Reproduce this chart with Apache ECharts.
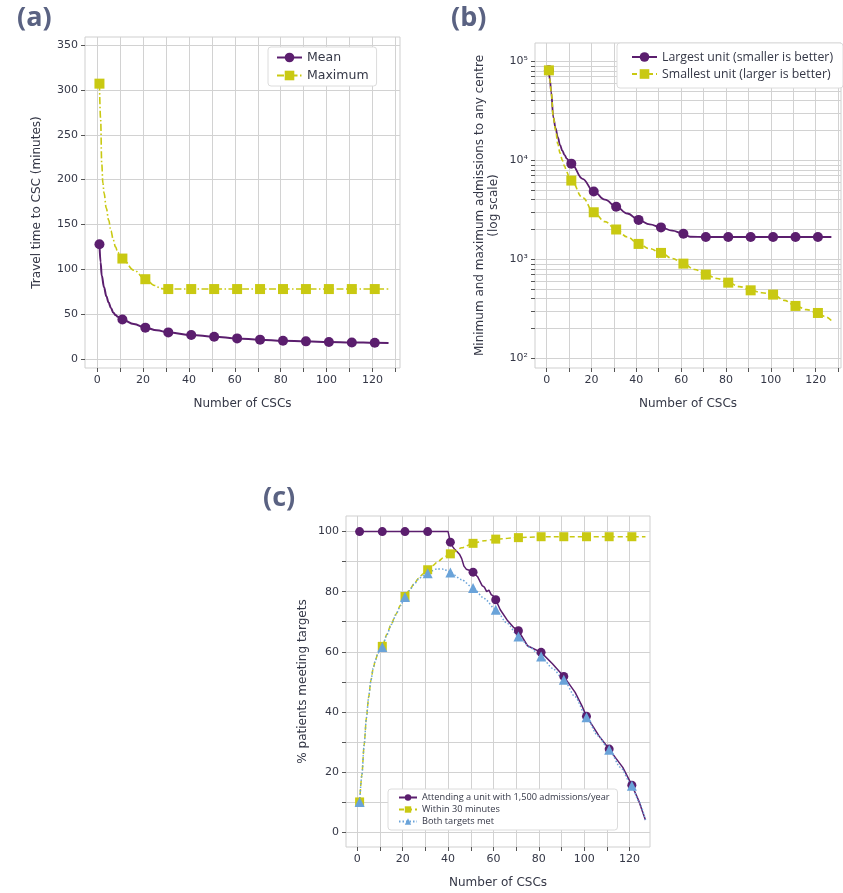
<!DOCTYPE html>
<html><head><meta charset="utf-8">
<script src="https://cdn.jsdelivr.net/npm/echarts@6/dist/echarts.min.js"></script>
<style>html,body{margin:0;padding:0;background:#fff}#chart{width:843px;height:893px}</style>
</head><body><div id="chart"></div>
<script>
// ---------- shared ----------
const markerX = [1, 11, 21, 31, 41, 51, 61, 71, 81, 91, 101, 111, 121];
const xTickValues = [0, 10, 20, 30, 40, 50, 60, 70, 80, 90, 100, 110, 120, 130];
const xLabelValues = [0, 20, 40, 60, 80, 100, 120];

// ---------- panel (a) ----------
const aYTicks = [0, 50, 100, 150, 200, 250, 300, 350];
const aMeanX = [1, 1.5, 2, 3, 4, 5, 6, 7, 8, 9, 10, 11, 16, 21, 26, 31, 41, 51, 61, 71, 81, 91, 101, 111, 121, 127];
const aMeanY = [128, 108, 93, 80, 70, 63, 57, 52, 49, 47, 45.5, 44, 39, 35, 32, 29.7, 26.8, 24.9, 23, 21.6, 20.4, 19.7, 19, 18.5, 18.1, 17.8];
const aMaxX = [1, 1.5, 2, 2.5, 3, 4, 5, 6, 7, 8, 9, 10, 11, 16, 21, 25, 28, 31, 41, 51, 61, 71, 81, 91, 101, 111, 121, 127];
const aMaxY = [307, 268, 218, 196, 185, 168, 155, 143, 133, 125, 119, 115, 112, 99, 89, 82, 78.5, 78, 78, 78, 78, 78, 78, 78, 78, 78, 78, 78];

// ---------- panel (b) ----------
const bYLabels = [100, 1000, 10000, 100000];
const bYTicks = [100, 200, 300, 400, 500, 600, 700, 800, 900,
  1000, 2000, 3000, 4000, 5000, 6000, 7000, 8000, 9000,
  10000, 20000, 30000, 40000, 50000, 60000, 70000, 80000, 90000, 100000];
const bLargeX = [1, 1.5, 2, 3, 4, 5, 6, 7, 8, 9, 10, 11, 16, 21, 26, 31, 36, 41, 46, 51, 56, 61, 64, 71, 81, 91, 101, 111, 121, 127];
const bLargeY = [81000, 64000, 49000, 27000, 21000, 17000, 14200, 12500, 11300, 10400, 9750, 9250, 6500, 4830, 4000, 3400, 2900, 2500, 2250, 2100, 1950, 1815, 1690, 1680, 1680, 1680, 1680, 1680, 1680, 1680];
const bSmallX = [1, 1.5, 2, 3, 4, 5, 6, 7, 8, 9, 10, 11, 16, 21, 26, 31, 36, 41, 46, 51, 56, 61, 66, 71, 76, 81, 86, 91, 96, 101, 106, 111, 116, 121, 124, 127];
const bSmallY = [81000, 64000, 49000, 27000, 20000, 14500, 11800, 10000, 8700, 7600, 6800, 6240, 4200, 2985, 2400, 2000, 1680, 1430, 1280, 1160, 1020, 904, 790, 700, 640, 581, 530, 486, 460, 440, 385, 338, 310, 287, 265, 240];

// ---------- panel (c) ----------
const cYTicks = [0, 10, 20, 30, 40, 50, 60, 70, 80, 90, 100];
const cYLabels = [0, 20, 40, 60, 80, 100];
const cUnitX = [1, 11, 21, 31, 40, 41, 42, 43, 44, 45, 46, 47, 48, 50, 51, 53, 55, 56, 57, 58, 59, 60, 61, 63, 66, 69, 71, 75, 81, 86, 91, 96, 99, 101, 104, 106.5, 111, 114, 117, 121, 124, 127];
const cUnitY = [100, 100, 100, 100, 100, 96.5, 95, 94, 93.3, 92.5, 91, 88.5, 87.5, 87, 86.5, 85, 82, 81.5, 80, 80.5, 79, 78.5, 77.3, 74, 70.6, 68, 67, 62, 59.8, 56, 51.8, 46.5, 42, 38.5, 35, 32, 27.6, 24.5, 21.5, 15.6, 10.5, 4];
const cWithinX = [1, 2, 3, 4, 5, 6, 7, 8, 9, 10, 11, 13, 15, 17, 19, 21, 23, 25, 27, 29, 31, 33, 36, 38, 41, 46, 51, 56, 61, 71, 81, 91, 101, 111, 121, 127];
const cWithinY = [10, 19, 29, 38, 45, 50.5, 54.5, 57.3, 59.3, 60.8, 61.8, 65.8, 69.3, 72.5, 75.5, 78.4, 80.6, 82.6, 84.5, 86, 87.3, 88.6, 90.3, 91.4, 92.6, 94.6, 96.1, 97, 97.5, 98, 98.3, 98.3, 98.3, 98.3, 98.3, 98.3];
const cBothX = [1, 2, 3, 4, 5, 6, 7, 8, 9, 10, 11, 13, 15, 17, 19, 21, 23, 25, 27, 29, 31, 33, 35, 38, 41, 46, 51, 56, 61, 66, 71, 76, 81, 86, 91, 96, 101, 106, 111, 116, 121, 124, 127];
const cBothY = [10, 19, 29, 38, 45, 50.5, 54.5, 57.3, 59.3, 60.8, 61.6, 65.6, 69.1, 72.3, 75.3, 78.2, 80.4, 82.4, 84.2, 85.4, 86.1, 87, 87.6, 87.5, 86.4, 84, 81.2, 77.7, 74, 69.5, 65.1, 61.5, 58.4, 54.5, 50.7, 45, 38.2, 32, 27.4, 21.5, 15.4, 10.3, 4];

// ---------- styling ----------
const PURPLE = '#5b1e6e';
const YELLOW = '#c9c912';
const BLUE = '#6aa3d9';
const FONT = 'DejaVu Sans';
const LFONT = 'Open Sans';
const TXT = '#343746';
const GRIDC = '#d2d2d2';
const SUP = {2: '\u00b2', 3: '\u00b3', 4: '\u2074', 5: '\u2075'};

function pts(xs, ys) {
  return xs.map((x, i) => {
    const d = {value: [x, ys[i]]};
    if (!markerX.includes(x)) d.symbol = 'none';
    return d;
  });
}

function xAxisCfg(gi, min, max) {
  return {
    type: 'value', gridIndex: gi, min: min, max: max,
    name: 'Number of CSCs', nameLocation: 'middle', nameGap: 30,
    nameTextStyle: {fontFamily: FONT, fontSize: 12, color: TXT},
    axisLine: {show: false, onZero: false},
    axisTick: {show: true, customValues: xTickValues, length: 4, lineStyle: {color: '#555', width: 1}},
    axisLabel: {customValues: xLabelValues, fontFamily: FONT, fontSize: 11, color: TXT, margin: 7},
    splitLine: {show: true, lineStyle: {color: GRIDC, width: 1}}
  };
}
function yAxisCfg(gi, min, max, ticks, labels, name, gap, extra) {
  return Object.assign({
    type: 'value', gridIndex: gi, min: min, max: max,
    name: name, nameLocation: 'middle', nameGap: gap,
    nameTextStyle: {fontFamily: FONT, fontSize: 12, color: TXT, lineHeight: 14},
    axisLine: {show: false, onZero: false},
    axisTick: {show: true, customValues: ticks, length: 4, lineStyle: {color: '#555', width: 1}},
    axisLabel: {customValues: labels, fontFamily: FONT, fontSize: 11, color: TXT, margin: 7},
    splitLine: {show: true, lineStyle: {color: GRIDC, width: 1}}
  }, extra || {});
}
function lineSeries(name, gi, xs, ys, color, symbol, size, lineType, width, smooth) {
  return {
    type: 'line', name: name, xAxisIndex: gi, yAxisIndex: gi,
    data: pts(xs, ys), symbol: symbol, symbolSize: size, showSymbol: true,
    smooth: smooth, smoothMonotone: 'x',
    lineStyle: {color: color, width: width, type: lineType},
    itemStyle: {color: color, borderWidth: 0},
    emphasis: {disabled: true}, silent: true, clip: true
  };
}
function legendCfg(names, left, top, font, fs, iw, ih, gap, pad) {
  return {
    data: names, left: left, top: top, orient: 'vertical',
    itemWidth: iw, itemHeight: ih, itemGap: gap, padding: pad,
    backgroundColor: '#fff', borderColor: '#dcdcdc', borderWidth: 1, borderRadius: 3,
    textStyle: {fontFamily: font, fontSize: fs, color: TXT}, selectedMode: false
  };
}

const TSTYLE = {fontFamily: 'Open Sans', fontWeight: 'bold', fontSize: 27, color: '#5a6282'};
const option = {
  animation: false,
  backgroundColor: '#fff',
  title: [
    {text: '(a)', left: 17, top: 5, padding: 0, textStyle: TSTYLE},
    {text: '(b)', left: 451, top: 5, padding: 0, textStyle: TSTYLE},
    {text: '(c)', left: 263, top: 485, padding: 0, textStyle: TSTYLE}
  ],
  grid: [
    {left: 85, top: 37, width: 315, height: 331, show: true, borderColor: '#cfcfcf', borderWidth: 1, backgroundColor: '#fff'},
    {left: 535, top: 43, width: 306, height: 325, show: true, borderColor: '#cfcfcf', borderWidth: 1, backgroundColor: '#fff'},
    {left: 346, top: 516, width: 304, height: 331, show: true, borderColor: '#cfcfcf', borderWidth: 1, backgroundColor: '#fff'}
  ],
  xAxis: [xAxisCfg(0, -5.3, 132), xAxisCfg(1, -5.2, 131.3), xAxisCfg(2, -5, 129)],
  yAxis: [
    yAxisCfg(0, -10, 359, aYTicks, aYTicks, 'Travel time to CSC (minutes)', 41),
    yAxisCfg(1, 79.8, 153000, bYTicks, bYLabels, 'Minimum and maximum admissions to any centre\n(log scale)', 34,
      {type: 'log', logBase: 10,
       axisLabel: {customValues: bYLabels, fontFamily: FONT, fontSize: 11, color: TXT, margin: 7,
         formatter: v => '10' + SUP[Math.round(Math.log10(v))]}}),
    yAxisCfg(2, -5, 105.2, cYTicks, cYLabels, '% patients meeting targets', 36)
  ],
  legend: [
    legendCfg(['Mean', 'Maximum'], 268, 47, FONT, 12.5, 25, 12, 5, [4, 8, 4, 8]),
    legendCfg(['Largest unit (smaller is better)', 'Smallest unit (larger is better)'], 617, 43, LFONT, 12.3, 25, 12, 5, [8, 10, 8, 14]),
    legendCfg(['Attending a unit with 1,500 admissions/year', 'Within 30 minutes', 'Both targets met'], 388, 789, LFONT, 9.2, 18, 8, 3, [4, 8, 4, 10])
  ],
  series: [
    lineSeries('Mean', 0, aMeanX, aMeanY, PURPLE, 'circle', 10, 'solid', 2, 0.4),
    lineSeries('Maximum', 0, aMaxX, aMaxY, YELLOW, 'rect', 10, [7, 2.5, 1.5, 2.5], 1.6, 0.4),
    lineSeries('Largest unit (smaller is better)', 1, bLargeX, bLargeY, PURPLE, 'circle', 10, 'solid', 1.8, 0.4),
    lineSeries('Smallest unit (larger is better)', 1, bSmallX, bSmallY, YELLOW, 'rect', 10, [5, 3], 1.6, 0.4),
    lineSeries('Attending a unit with 1,500 admissions/year', 2, cUnitX, cUnitY, PURPLE, 'circle', 9, 'solid', 1.5, false),
    lineSeries('Within 30 minutes', 2, cWithinX, cWithinY, YELLOW, 'rect', 9, [5, 3], 1.5, 0.25),
    lineSeries('Both targets met', 2, cBothX, cBothY, BLUE, 'triangle', 10, [1.5, 2], 1.5, 0.25)
  ]
};
const chart = echarts.init(document.getElementById('chart'), null, {renderer: 'canvas'});
chart.setOption(option);
</script>
</body></html>
